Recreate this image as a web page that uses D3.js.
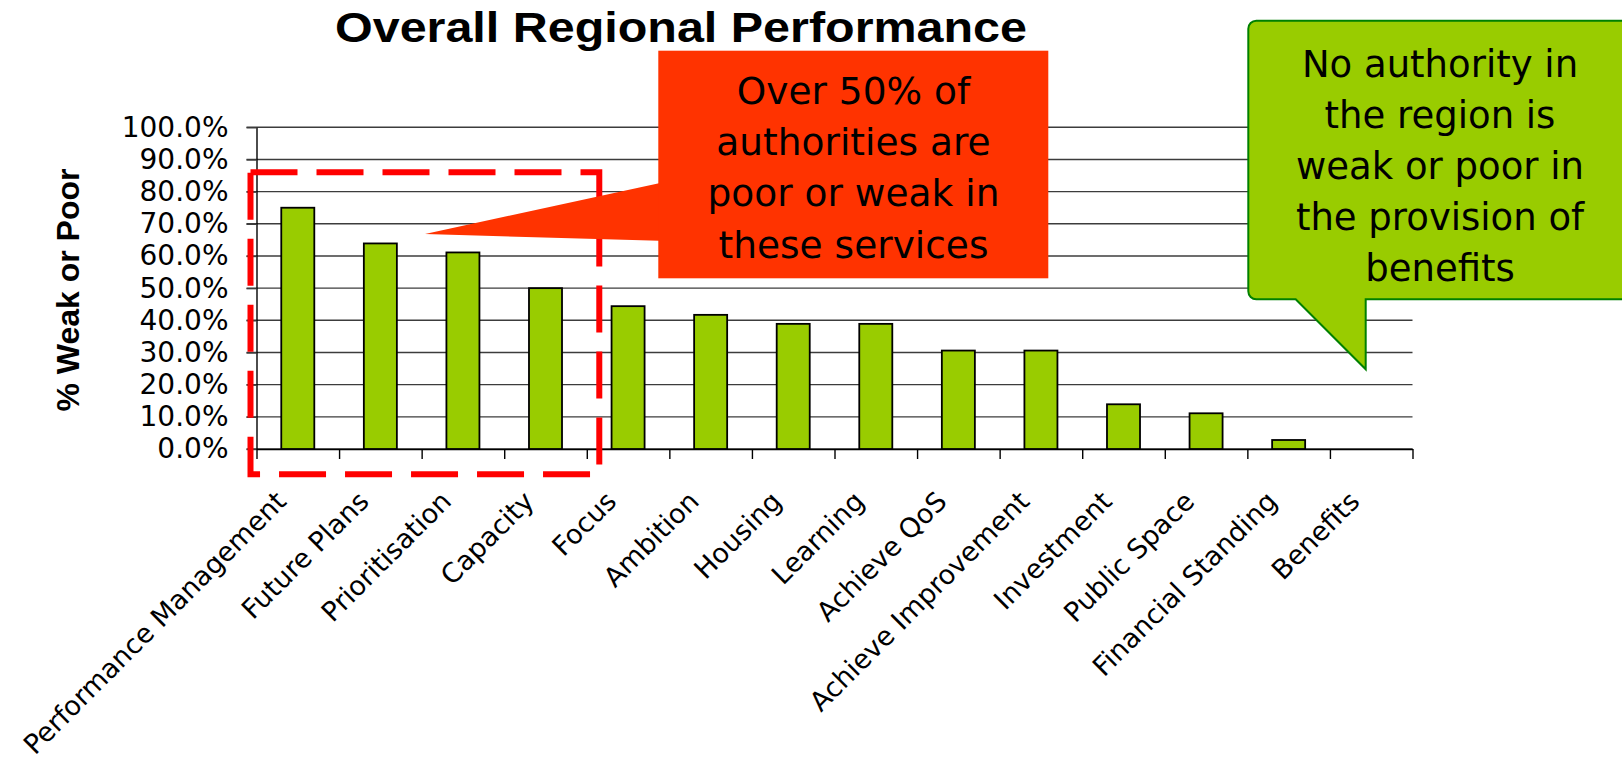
<!DOCTYPE html>
<html>
<head>
<meta charset="utf-8">
<script src="https://cdn.jsdelivr.net/npm/d3@7"></script>
<style>
    body { margin: 0; background: #fff; }
    svg { display: block; }
</style>
</head>
<body>
<div id="chart_container"></div>
<script>
// data
var categories = ["Performance Management", "Future Plans", "Prioritisation", "Capacity", "Focus",
    "Ambition", "Housing", "Learning", "Achieve QoS", "Achieve Improvement",
    "Investment", "Public Space", "Financial Standing", "Benefits"];
var weakOrPoor = [0.750, 0.639, 0.611, 0.500, 0.444, 0.417, 0.389, 0.389, 0.306, 0.306, 0.139, 0.111, 0.028, 0];
var yTicks = [0, 0.1, 0.2, 0.3, 0.4, 0.5, 0.6, 0.7, 0.8, 0.9, 1.0];

var titleText = "Overall Regional Performance";
var yLabel = "% Weak or Poor";
var redNote = ["Over 50% of", "authorities are", "poor or weak in", "these services"];
var greenNote = ["No authority in", "the region is", "weak or poor in", "the provision of", "benefits"];

var chart_width = 1622;
var chart_height = 760;

var plot = {left: 256.5, right: 1412.5, top: 127.3, bottom: 449};

var svg = d3.select("#chart_container")
    .append("svg")
    .attr("width", chart_width)
    .attr("height", chart_height);

var x = d3.scaleBand()
    .domain(categories)
    .range([plot.left, plot.right])
    .paddingInner(0.6)
    .paddingOuter(0.3);

// category boundaries for the tick marks
var xEdge = d3.scaleLinear()
    .domain([0, categories.length])
    .range([plot.left, plot.right]);

var y = d3.scaleLinear()
    .domain([0, 1])
    .range([plot.bottom, plot.top]);

// title
svg.append("text")
    .attr("x", 335)
    .attr("y", 41.5)
    .attr("textLength", 692)
    .attr("lengthAdjust", "spacingAndGlyphs")
    .style("font-family", "'Liberation Sans', Arial, sans-serif")
    .style("font-weight", "bold")
    .style("font-size", "43px")
    .text(titleText);

// gridlines
svg.append("g")
    .attr("id", "grid")
    .selectAll("line")
    .data(yTicks)
    .enter()
    .append("line")
    .attr("x1", plot.left - 10)
    .attr("x2", plot.right)
    .attr("y1", function(d) { return y(d); })
    .attr("y2", function(d) { return y(d); })
    .style("stroke", "#3c3c3c")
    .style("stroke-width", 1.4);

// Y axis
var yAxis = d3.axisLeft(y)
    .tickValues(yTicks)
    .tickFormat(d3.format(".1%"))
    .tickSize(10)
    .tickSizeOuter(0)
    .tickPadding(18);

var yG = svg.append("g")
    .attr("class", "axis")
    .attr("transform", "translate(" + plot.left + ",0)")
    .call(yAxis);
yG.select(".domain").style("stroke", "#000").style("stroke-width", 1.4);
yG.selectAll(".tick line").style("stroke", "#3c3c3c").style("stroke-width", 1.4);
yG.selectAll(".tick text")
    .style("font-family", "'DejaVu Sans', Tahoma, sans-serif")
    .style("font-size", "28px")
    .style("fill", "#000");

// X axis (ticks between categories)
var xAxis = d3.axisBottom(xEdge)
    .tickValues(d3.range(categories.length + 1))
    .tickFormat("")
    .tickSize(10)
    .tickSizeOuter(0);

var xG = svg.append("g")
    .attr("class", "axis")
    .attr("transform", "translate(0," + plot.bottom + ")")
    .call(xAxis);
xG.selectAll("line, path").style("stroke", "#000").style("stroke-width", 1.4);

// bars
svg.append("g")
    .selectAll("rect")
    .data(weakOrPoor)
    .enter()
    .append("rect")
    .attr("x", function(d, i) { return x(categories[i]); })
    .attr("y", function(d) { return y(d); })
    .attr("width", x.bandwidth())
    .attr("height", function(d) { return y(0) - y(d); })
    .style("fill", "#99CC00")
    .style("stroke", function(d) { return d > 0 ? "#000" : "none"; })
    .style("stroke-width", 1.8);

// category labels, rotated
svg.append("g")
    .selectAll("text")
    .data(categories)
    .enter()
    .append("text")
    .attr("transform", function(d) {
        return "translate(" + (x(d) + x.bandwidth() / 2 - 10) + "," + (plot.bottom + 54) + ") rotate(-45)";
    })
    .attr("text-anchor", "end")
    .style("font-family", "'DejaVu Sans', Tahoma, sans-serif")
    .style("font-size", "27px")
    .text(function(d) { return d; });

// Y axis label
svg.append("text")
    .attr("transform", "translate(79,290) rotate(-90)")
    .attr("text-anchor", "middle")
    .style("font-family", "'Liberation Sans', Arial, sans-serif")
    .style("font-weight", "bold")
    .style("font-size", "32px")
    .text(yLabel);

// dashed box round the first four services
var boxLeft = xEdge(0) - 6;
var boxRight = xEdge(4) + 12.5;
svg.append("rect")
    .attr("x", boxLeft)
    .attr("y", y(0.86))
    .attr("width", boxRight - boxLeft)
    .attr("height", plot.bottom + 25.3 - y(0.86))
    .style("fill", "none")
    .style("stroke", "#FF0000")
    .style("stroke-width", 6)
    .style("stroke-dasharray", "47,19");

// red callout
var red = svg.append("g");
red.append("polygon")
    .attr("points", [[425, 234], [659, 183.3], [659, 240.7]].join(" "))
    .style("fill", "#FF3300");
red.append("rect")
    .attr("x", 658.3)
    .attr("y", 50.7)
    .attr("width", 390)
    .attr("height", 227.6)
    .style("fill", "#FF3300");
red.selectAll("text")
    .data(redNote)
    .enter()
    .append("text")
    .attr("x", 853.5)
    .attr("y", function(d, i) { return 104 + i * 51.2; })
    .attr("text-anchor", "middle")
    .style("font-family", "'DejaVu Sans', Tahoma, sans-serif")
    .style("font-size", "37.5px")
    .text(function(d) { return d; });

// green callout (runs off the right edge)
var green = svg.append("g");
green.append("path")
    .attr("d", "M1256.3,20.7 H1660 V299.3 H1365.7 V369.3 L1295.7,299.3 H1256.3" +
        " A8,8 0 0 1 1248.3,291.3 V28.7 A8,8 0 0 1 1256.3,20.7 Z")
    .style("fill", "#99CC00")
    .style("stroke", "#008000")
    .style("stroke-width", 2);
green.selectAll("text")
    .data(greenNote)
    .enter()
    .append("text")
    .attr("x", 1440)
    .attr("y", function(d, i) { return 76.7 + i * 51; })
    .attr("text-anchor", "middle")
    .style("font-family", "'DejaVu Sans', Tahoma, sans-serif")
    .style("font-size", "37px")
    .text(function(d) { return d; });
</script>
</body>
</html>
